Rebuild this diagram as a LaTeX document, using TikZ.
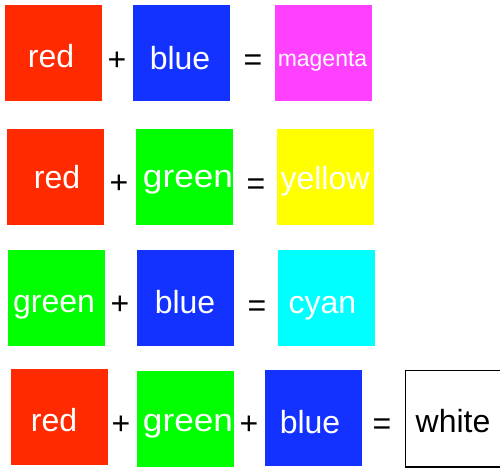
\documentclass[tikz,border=0pt]{standalone}
\usepackage{fontspec}
\setmainfont{Liberation Sans}
\definecolor{cred}{RGB}{255,42,0}
\definecolor{cblue}{RGB}{20,50,255}
\definecolor{cmag}{RGB}{255,64,255}
\definecolor{cgreen}{RGB}{0,255,0}
\definecolor{cyel}{RGB}{255,255,0}
\definecolor{ccyan}{RGB}{0,255,255}
\tikzset{
  sq/.style={minimum width=97pt, minimum height=96pt, inner sep=0pt, outer sep=0pt, draw=none},
  lbl/.style={anchor=base, inner sep=0pt, text=white, font=\fontsize{32}{38}\selectfont},
  op/.style={anchor=base, inner sep=0pt, text=black, font=\fontsize{32}{38}\selectfont},
}
\begin{document}
\begin{tikzpicture}[x=1pt,y=-1pt]
\useasboundingbox[fill=white] (0,0) rectangle (500,468);
% row 1
\node[sq, fill=cred] (r1a) at (53.5,53.5) {};
\node[sq, fill=cblue] (r1b) at (181.5,53.5) {};
\node[sq, fill=cmag] (r1c) at (323.5,53.5) {};
\node[lbl] (t1a) at (51,68) {red};
\node[lbl] (t1b) at (180,70) {blue};
\node[lbl, font=\fontsize{23}{28}\selectfont] (t1c) at (322.5,67) {magenta};
\node[op] (p1) at (117,70.3) {+};
\node[op] (e1) at (253,70.3) {=};
% row 2
\node[sq, fill=cred] (r2a) at (55.5,176.5) {};
\node[sq, fill=cgreen] (r2b) at (184,176.5) {};
\node[sq, fill=cyel] (r2c) at (325,176.5) {};
\node[lbl] (t2a) at (57,188) {red};
\node[lbl] (t2b) at (188,187) {\scalebox{1.1}[1]{green}};
\node[lbl] (t2c) at (325,189) {yellow};
\node[op] (p2) at (119,193) {+};
\node[op] (e2) at (256,194) {=};
% row 3
\node[sq, fill=cgreen] (r3a) at (56.5,298) {};
\node[sq, fill=cblue] (r3b) at (185,298) {};
\node[sq, fill=ccyan] (r3c) at (326,298) {};
\node[lbl] (t3a) at (54,312) {green};
\node[lbl] (t3b) at (185,313) {blue};
\node[lbl] (t3c) at (322.5,313) {cyan};
\node[op] (p3) at (120,314.5) {+};
\node[op] (e3) at (257,316) {=};
% row 4
\node[sq, fill=cred] (r4a) at (59,417) {};
\node[sq, fill=cgreen] (r4b) at (185.5,419) {};
\node[sq, fill=cblue] (r4c) at (313,418) {};
\node[sq, draw=black, line width=1.5pt, minimum width=100pt, minimum height=96.5pt, anchor=north west] (r4d) at (405.5,370.7) {};
\node[lbl] (t4a) at (54,431) {red};
\node[lbl] (t4b) at (188,431) {\scalebox{1.1}[1]{green}};
\node[lbl] (t4c) at (310,433) {blue};
\node[lbl, text=black] (t4d) at (453,432) {white};
\node[op] (p4a) at (121,434) {+};
\node[op] (p4b) at (249,434) {+};
\node[op] (e4) at (382,434) {=};
\end{tikzpicture}
\end{document}
